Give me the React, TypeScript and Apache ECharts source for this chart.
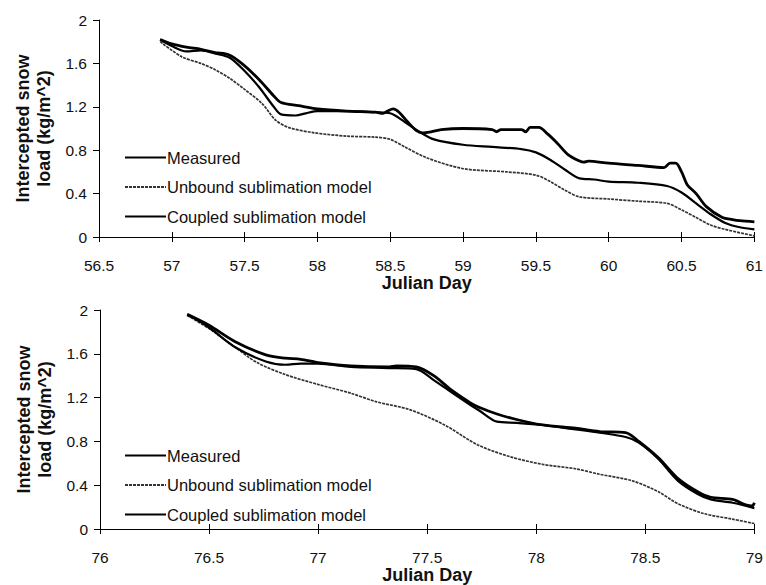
import React, { useEffect, useRef } from "react";
import * as echarts from "echarts";

const seriesNames = ["Measured", "Unbound sublimation model", "Coupled sublimation model"];
const yTicks = [0, 0.4, 0.8, 1.2, 1.6, 2];

const topMeasured = [[56.92,1.82],[57.0,1.78],[57.1,1.75],[57.2,1.73],[57.3,1.70],[57.39,1.68],[57.48,1.60],[57.6,1.45],[57.7,1.30],[57.75,1.24],[57.87,1.21],[58.0,1.18],[58.2,1.16],[58.4,1.15],[58.45,1.14],[58.48,1.16],[58.52,1.18],[58.56,1.15],[58.62,1.06],[58.68,0.98],[58.72,0.96],[58.78,0.97],[58.85,0.99],[59.0,1.0],[59.2,0.99],[59.23,0.97],[59.26,0.99],[59.4,0.99],[59.43,0.97],[59.46,1.01],[59.52,1.01],[59.58,0.95],[59.65,0.86],[59.72,0.76],[59.8,0.70],[59.83,0.69],[59.86,0.70],[60.0,0.68],[60.2,0.66],[60.38,0.64],[60.42,0.68],[60.46,0.68],[60.5,0.60],[60.54,0.48],[60.6,0.40],[60.67,0.28],[60.78,0.18],[60.85,0.16],[60.9,0.15],[61.0,0.14]];
const topUnbound = [[56.92,1.80],[57.07,1.66],[57.2,1.60],[57.3,1.54],[57.4,1.46],[57.5,1.36],[57.62,1.23],[57.71,1.08],[57.8,1.01],[57.98,0.96],[58.2,0.93],[58.4,0.92],[58.5,0.90],[58.6,0.83],[58.75,0.73],[59.0,0.63],[59.3,0.60],[59.5,0.57],[59.6,0.51],[59.7,0.43],[59.8,0.37],[60.0,0.35],[60.2,0.33],[60.4,0.31],[60.5,0.25],[60.6,0.18],[60.7,0.11],[60.8,0.07],[61.0,0.01]];
const topCoupled = [[56.92,1.82],[57.0,1.76],[57.1,1.71],[57.2,1.72],[57.3,1.69],[57.4,1.65],[57.5,1.53],[57.6,1.38],[57.7,1.20],[57.75,1.13],[57.85,1.12],[57.92,1.14],[58.0,1.16],[58.2,1.16],[58.4,1.15],[58.5,1.14],[58.6,1.06],[58.7,0.97],[58.8,0.90],[59.0,0.85],[59.2,0.83],[59.4,0.81],[59.5,0.78],[59.6,0.71],[59.7,0.62],[59.8,0.54],[59.9,0.53],[60.0,0.51],[60.2,0.50],[60.4,0.47],[60.5,0.41],[60.6,0.31],[60.7,0.21],[60.8,0.13],[60.9,0.09],[61.0,0.07]];

const bottomMeasured = [[76.4,1.96],[76.5,1.86],[76.62,1.71],[76.76,1.59],[76.85,1.56],[76.92,1.55],[77.0,1.52],[77.15,1.49],[77.32,1.48],[77.36,1.49],[77.45,1.48],[77.53,1.40],[77.61,1.27],[77.7,1.15],[77.74,1.11],[77.82,1.05],[77.91,1.0],[78.03,0.95],[78.18,0.92],[78.29,0.89],[78.41,0.88],[78.47,0.80],[78.56,0.65],[78.65,0.46],[78.74,0.34],[78.8,0.29],[78.9,0.27],[78.96,0.22],[78.99,0.21],[79.0,0.24]];
const bottomUnbound = [[76.4,1.95],[76.5,1.83],[76.62,1.66],[76.72,1.52],[76.85,1.41],[77.0,1.32],[77.15,1.24],[77.27,1.16],[77.42,1.09],[77.58,0.95],[77.73,0.77],[77.88,0.66],[78.03,0.59],[78.18,0.55],[78.29,0.50],[78.44,0.44],[78.56,0.34],[78.65,0.23],[78.77,0.14],[78.9,0.09],[79.0,0.05]];
const bottomCoupled = [[76.4,1.96],[76.5,1.84],[76.62,1.66],[76.76,1.53],[76.85,1.50],[76.92,1.51],[77.0,1.51],[77.15,1.48],[77.32,1.47],[77.45,1.46],[77.53,1.36],[77.61,1.25],[77.7,1.13],[77.74,1.08],[77.82,0.98],[77.91,0.97],[78.03,0.95],[78.18,0.91],[78.29,0.88],[78.41,0.84],[78.47,0.79],[78.56,0.64],[78.65,0.44],[78.74,0.32],[78.8,0.27],[78.9,0.24],[79.0,0.19]];

const topXRange = [56.5, 61];
const bottomXRange = [76, 79];

const FONT = "'Liberation Sans', Arial, Helvetica, sans-serif";
const INK = "#111";

export default function App() {
  const ref = useRef<HTMLDivElement>(null);
  useEffect(() => {
    if (!ref.current) return;
    const chart = echarts.init(ref.current, null, { renderer: "svg" });

    const styles = [
      { color: "#000", width: 2.8, type: "solid" as any },
      { color: "#333", width: 1.7, type: [3, 1] as any },
      { color: "#000", width: 2.2, type: "solid" as any },
    ];
    const mkSeries = (data: number[][], i: number, axis: number) => ({
      type: "line",
      name: seriesNames[i],
      xAxisIndex: axis * 2,
      yAxisIndex: axis,
      data,
      symbol: "none",
      smooth: 0.3,
      lineStyle: styles[i],
      itemStyle: { color: styles[i].color },
      z: i === 1 ? 2 : 3,
    });

    const mkX = (grid: number, range: number[], primary: boolean) => ({
      type: "value",
      gridIndex: grid,
      min: range[0],
      max: range[1],
      interval: 0.5,
      position: "bottom",
      splitLine: { show: false },
      axisLine: { show: primary, onZero: false, lineStyle: { color: "#000", width: 1 } },
      axisTick: { show: true, inside: !primary, length: 5, lineStyle: { color: "#000", width: 1 } },
      axisLabel: {
        show: primary,
        margin: 20,
        fontFamily: FONT,
        fontSize: 15.5,
        color: INK,
        formatter: (v: number) => String(v),
        showMinLabel: true,
        showMaxLabel: true,
      },
      name: primary ? "Julian Day" : "",
      nameLocation: "middle",
      nameGap: 37,
      nameTextStyle: { fontFamily: FONT, fontSize: 18, fontWeight: "bold", color: INK },
    });

    const mkY = (grid: number) => ({
      type: "value",
      gridIndex: grid,
      min: 0,
      max: 2,
      interval: 0.4,
      splitLine: { show: false },
      axisLine: { show: true, lineStyle: { color: "#000", width: 1 } },
      axisTick: { show: true, length: 6, lineStyle: { color: "#000", width: 1 } },
      axisLabel: {
        margin: 12,
        fontFamily: FONT,
        fontSize: 15.5,
        color: INK,
        formatter: (v: number) => {
          const t = yTicks.find((y) => Math.abs(y - v) < 1e-6);
          return t === undefined ? "" : String(t);
        },
      },
      name: "Intercepted snow\nload (kg/m^2)",
      nameLocation: "middle",
      nameGap: 43,
      nameRotate: 90,
      nameTextStyle: { fontFamily: FONT, fontSize: 18, fontWeight: "bold", color: INK, lineHeight: 21 },
    });

    const mkLegend = (top: number) => ({
      orient: "vertical",
      left: 119,
      top,
      itemWidth: 41,
      itemHeight: 14,
      itemGap: 12.5,
      data: seriesNames,
      itemStyle: { opacity: 0 },
      textStyle: { fontFamily: FONT, fontSize: 16.5, color: INK, padding: [0, 0, 0, -4] },
      selectedMode: false,
    });

    chart.setOption({
      animation: false,
      backgroundColor: "#fff",
      grid: [
        { left: 99, right: 6, top: 20, height: 217 },
        { left: 100, right: 6, top: 310, height: 220 },
      ],
      xAxis: [
        mkX(0, topXRange, true),
        mkX(0, topXRange, false),
        mkX(1, bottomXRange, true),
        mkX(1, bottomXRange, false),
      ],
      yAxis: [mkY(0), mkY(1)],
      legend: [mkLegend(144), mkLegend(442)],
      series: [
        mkSeries(topMeasured, 0, 0),
        mkSeries(topUnbound, 1, 0),
        mkSeries(topCoupled, 2, 0),
        mkSeries(bottomMeasured, 0, 1),
        mkSeries(bottomUnbound, 1, 1),
        mkSeries(bottomCoupled, 2, 1),
      ],
    });
    return () => chart.dispose();
  }, []);

  return <div ref={ref} style={{ width: 766, height: 585, position: "absolute", left: 0, top: 0 }} />;
}
